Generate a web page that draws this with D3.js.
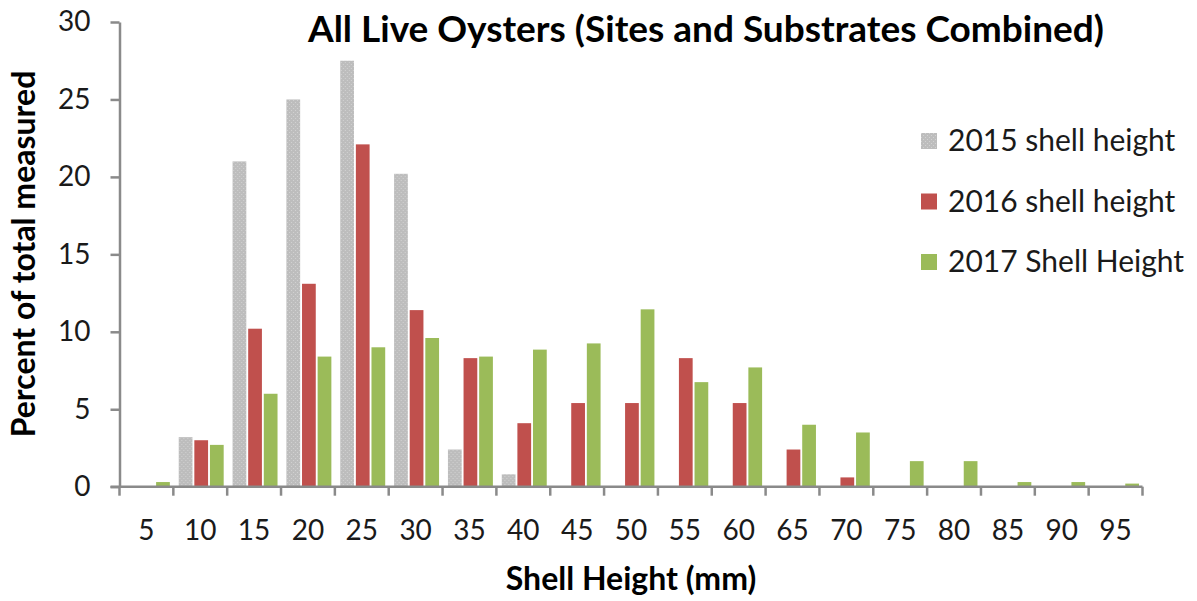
<!DOCTYPE html>
<html>
<head>
<meta charset="utf-8">
<script src="https://cdn.jsdelivr.net/npm/d3@7/dist/d3.min.js"></script>
<style>
  html, body { margin: 0; padding: 0; background: #ffffff; }
  svg { display: block; font-family: Lato, "Open Sans", sans-serif; }
</style>
</head>
<body>
<svg id="chart" width="1197" height="601"></svg>
<script>
// Shell height size classes (mm)
const categories = ["5","10","15","20","25","30","35","40","45","50","55","60","65","70","75","80","85","90","95"];

// Percent of total oysters measured in each size class
const series2015 = [0, 3.2, 21.0, 25.0, 27.5, 20.2, 2.4, 0.8, 0, 0, 0, 0, 0, 0, 0, 0, 0, 0, 0];
const series2016 = [0, 3.0, 10.2, 13.1, 22.1, 11.4, 8.3, 4.1, 5.4, 5.4, 8.3, 5.4, 2.4, 0.6, 0, 0, 0, 0, 0];
const series2017 = [0.3, 2.7, 6.0, 8.4, 9.0, 9.6, 8.4, 8.85, 9.25, 11.45, 6.75, 7.7, 4.0, 3.5, 1.65, 1.65, 0.3, 0.3, 0.2];

const seriesNames = ["2015 shell height", "2016 shell height", "2017 Shell Height"];
const yTicks = [0, 5, 10, 15, 20, 25, 30];

const svg = d3.select("#chart");
const margin = { left: 119.5, right: 1197 - 1142.5, top: 22, bottom: 601 - 486.7 };
const width = 1197, height = 601;

// Dotted fill used for the 2015 bars
const defs = svg.append("defs");
const pat = defs.append("pattern")
  .attr("id", "greyDots")
  .attr("patternUnits", "userSpaceOnUse")
  .attr("width", 4).attr("height", 4);
pat.append("rect").attr("width", 4).attr("height", 4).attr("fill", "#bdbdbd");
pat.append("rect").attr("x", 0).attr("y", 0).attr("width", 1).attr("height", 1).attr("fill", "#d2d2d2");
pat.append("rect").attr("x", 2).attr("y", 2).attr("width", 1).attr("height", 1).attr("fill", "#d2d2d2");

const fills = ["url(#greyDots)", "#c0504d", "#9bbb59"];

const data = categories.map((c, i) => ({
  cat: c,
  values: [series2015[i], series2016[i], series2017[i]]
}));

const x = d3.scaleBand()
  .domain(categories)
  .range([margin.left, width - margin.right])
  .paddingInner(0).paddingOuter(0);

const bw = x.bandwidth();
const xInner = d3.scaleBand()
  .domain([0, 1, 2])
  .range([bw * 0.1, bw * 0.935])
  .paddingInner(0.12);

const y = d3.scaleLinear()
  .domain([0, 30])
  .range([height - margin.bottom, margin.top]);

// Bars
const groups = svg.append("g").selectAll("g")
  .data(data)
  .join("g")
  .attr("transform", d => `translate(${x(d.cat)},0)`);

groups.selectAll("rect")
  .data(d => d.values.map((v, k) => ({ v, k })))
  .join("rect")
  .attr("x", d => xInner(d.k))
  .attr("width", xInner.bandwidth())
  .attr("y", d => y(d.v))
  .attr("height", d => y(0) - y(d.v))
  .attr("fill", d => fills[d.k]);

// Y axis
const yAxis = d3.axisLeft(y).tickValues(yTicks).tickSize(9).tickPadding(20).tickSizeOuter(0);
const gy = svg.append("g")
  .attr("transform", `translate(${margin.left},0)`)
  .call(yAxis);
gy.select(".domain").attr("stroke", "#8a8a8a").attr("stroke-width", 2.5);
gy.selectAll(".tick line").attr("stroke", "#8a8a8a").attr("stroke-width", 2.5);
gy.selectAll(".tick text")
  .attr("font-size", 28).attr("fill", "#1a1a1a")
  .attr("font-family", "Lato, sans-serif");

// X axis: ticks at category boundaries, labels centred in each category
const boundaries = categories.map(c => x(c)).concat([width - margin.right]);
const gx = svg.append("g");
gx.append("line")
  .attr("x1", margin.left - 9).attr("x2", width - margin.right)
  .attr("y1", y(0)).attr("y2", y(0))
  .attr("stroke", "#8a8a8a").attr("stroke-width", 2.5);
gx.selectAll("line.tk")
  .data(boundaries)
  .join("line")
  .attr("class", "tk")
  .attr("x1", d => d).attr("x2", d => d)
  .attr("y1", y(0)).attr("y2", y(0) + 9)
  .attr("stroke", "#8a8a8a").attr("stroke-width", 2.5);
gx.selectAll("text")
  .data(categories)
  .join("text")
  .attr("x", d => x(d) + bw / 2)
  .attr("y", y(0) + 53)
  .attr("text-anchor", "middle")
  .attr("font-size", 28)
  .attr("fill", "#1a1a1a")
  .text(d => d);

// Title
svg.append("text")
  .attr("x", 706).attr("y", 42)
  .attr("text-anchor", "middle")
  .attr("font-size", 37).attr("font-weight", "bold")
  .attr("fill", "#000")
  .text("All Live Oysters (Sites and Substrates Combined)");

// Axis titles
svg.append("text")
  .attr("transform", "translate(35,254) rotate(-90)")
  .attr("text-anchor", "middle")
  .attr("font-size", 32).attr("font-weight", "bold")
  .attr("fill", "#000")
  .text("Percent of total measured");

svg.append("text")
  .attr("x", 631).attr("y", 590)
  .attr("text-anchor", "middle")
  .attr("font-size", 32).attr("font-weight", "bold")
  .attr("fill", "#000")
  .text("Shell Height (mm)");

// Legend
const legend = svg.append("g").attr("transform", "translate(921,133)");
const rows = legend.selectAll("g")
  .data(seriesNames)
  .join("g")
  .attr("transform", (d, i) => `translate(0,${i * 60.5})`);
rows.append("rect")
  .attr("width", 16).attr("height", 16)
  .attr("fill", (d, i) => fills[i]);
rows.append("text")
  .attr("x", 27).attr("y", 18)
  .attr("font-size", 30).attr("fill", "#1a1a1a")
  .text(d => d);
</script>
</body>
</html>
